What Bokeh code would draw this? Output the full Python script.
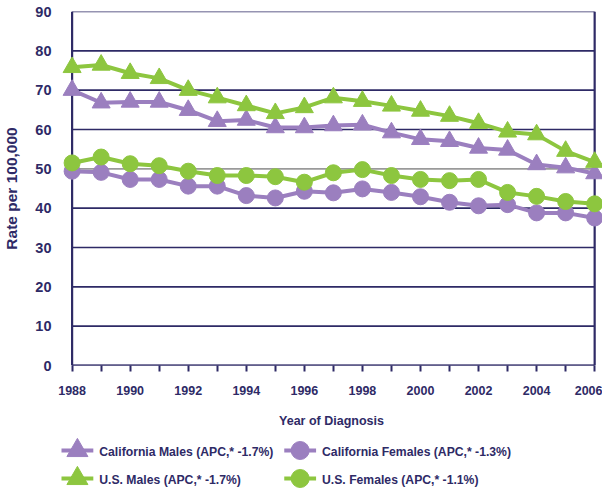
from bokeh.plotting import figure
from bokeh.layouts import column
from bokeh.models import Range1d, FixedTicker
from bokeh.core.properties import value
from bokeh.embed import file_html
from bokeh.resources import INLINE

years = list(range(1988, 2007))
ca_males = [70.0, 66.8, 67.0, 67.0, 64.9, 62.1, 62.4, 60.5, 60.5, 61.0, 61.2, 59.2, 57.5, 57.0, 55.3, 54.8, 51.1, 50.3, 48.8]
us_males = [75.8, 76.4, 74.3, 73.0, 70.0, 68.1, 66.1, 64.1, 65.6, 68.1, 67.2, 66.0, 64.7, 63.4, 61.6, 59.4, 58.7, 54.5, 51.7]
ca_females = [49.4, 49.1, 47.3, 47.3, 45.6, 45.6, 43.2, 42.6, 44.3, 43.9, 44.9, 44.0, 42.9, 41.5, 40.6, 40.9, 38.8, 38.8, 37.5]
us_females = [51.5, 53.0, 51.3, 50.8, 49.4, 48.3, 48.3, 48.0, 46.6, 49.0, 49.8, 48.3, 47.3, 47.0, 47.3, 44.0, 43.0, 41.7, 41.1]
y_ticks = [0, 10, 20, 30, 40, 50, 60, 70, 80, 90]
x_label_years = [1988, 1990, 1992, 1994, 1996, 1998, 2000, 2002, 2004, 2006]
series_labels = ["California Males (APC,* -1.7%)", "California Females (APC,* -1.3%)",
                 "U.S. Males (APC,* -1.7%)", "U.S. Females (APC,* -1.1%)"]

NAVY = "#2e2a66"
PURPLE = "#9b7fbf"
GREEN = "#8dc63f"
FONT = "Liberation Sans"

p = figure(width=602, height=430, output_backend="svg", toolbar_location=None,
           x_range=Range1d(1987.6, 2006.27), y_range=Range1d(0, 90),
           min_border_left=57, min_border_right=0, min_border_top=11, min_border_bottom=65)
p.outline_line_color = None
p.background_fill_color = "white"
p.border_fill_color = "white"

# grid lines
grid_colors = [NAVY if t != 50 else "#9a9a9a" for t in y_ticks]
p.segment(x0=[years[0]] * len(y_ticks), x1=[years[-1]] * len(y_ticks), y0=y_ticks, y1=y_ticks,
          line_color=grid_colors, line_width=1.6)
# frame lines
p.segment(x0=[years[0], years[-1], years[0]], x1=[years[0], years[-1], years[-1]],
          y0=[0, 0, 0], y1=[90, 90, 0], line_color=NAVY, line_width=2.2)

p.xgrid.visible = False
p.ygrid.visible = False

p.xaxis.ticker = FixedTicker(ticks=years)
p.xaxis.major_label_overrides = {y: (str(y) if y in x_label_years else "") for y in years}
p.xaxis.axis_line_color = None
p.xaxis.major_tick_line_color = NAVY
p.xaxis.major_tick_line_width = 2
p.xaxis.major_tick_out = 6
p.xaxis.major_tick_in = 0
p.xaxis.minor_tick_line_color = None
p.xaxis.major_label_text_font = FONT
p.xaxis.major_label_text_font_style = "bold"
p.xaxis.major_label_text_font_size = "12.5px"
p.xaxis.major_label_text_color = NAVY
p.xaxis.major_label_standoff = 14
p.xaxis.axis_label = "Year of Diagnosis"
p.xaxis.axis_label_text_font = FONT
p.xaxis.axis_label_text_font_style = "bold"
p.xaxis.axis_label_text_font_size = "12.5px"
p.xaxis.axis_label_text_color = NAVY
p.xaxis.axis_label_standoff = 16

p.yaxis.ticker = FixedTicker(ticks=y_ticks)
p.yaxis.axis_line_color = None
p.yaxis.major_tick_line_color = None
p.yaxis.minor_tick_line_color = None
p.yaxis.major_label_text_font = FONT
p.yaxis.major_label_text_font_style = "bold"
p.yaxis.major_label_text_font_size = "14.5px"
p.yaxis.major_label_text_color = NAVY
p.yaxis.major_label_standoff = 3
p.yaxis.axis_label = "Rate per 100,000"
p.yaxis.axis_label_text_font = FONT
p.yaxis.axis_label_text_font_style = "bold"
p.yaxis.axis_label_text_font_size = "15.5px"
p.yaxis.axis_label_text_color = NAVY
p.yaxis.axis_label_standoff = 12

series = [
    (ca_males, PURPLE, "triangle"),
    (ca_females, PURPLE, "circle"),
    (us_males, GREEN, "triangle"),
    (us_females, GREEN, "circle"),
]
for vals, color, marker in series:
    size = 18 if marker == "triangle" else 16
    p.line(years, vals, line_color=color, line_width=4)
    p.scatter(years, vals, marker=marker, size=size, fill_color=color, line_color=color)

# legend strip below the chart (pixel-space ranges)
p2 = figure(width=602, height=60, output_backend="svg", toolbar_location=None,
            x_range=Range1d(57, 602), y_range=Range1d(60, 0),
            x_axis_location=None, y_axis_location=None,
            min_border_left=57, min_border_right=0, min_border_top=0, min_border_bottom=0)
p2.outline_line_color = None
p2.grid.visible = False

col_x = [58, 282]
row_y = [20, 48]
gx, gy, tx, ty, colors, markers = [], [], [], [], [], []
for i, (vals, color, marker) in enumerate(series):
    x0 = col_x[i % 2]
    y0 = row_y[i // 2]
    gx.append(x0)
    gy.append(y0)
    tx.append(x0 + 38)
    ty.append(y0 + 1)
    colors.append(color)
    markers.append(marker)

p2.segment(x0=gx, x1=[x + 32 for x in gx], y0=gy, y1=gy, line_color=colors, line_width=4)
p2.scatter([x + 16 for x in gx], gy, marker=markers,
           size=[21 if m == "triangle" else 18 for m in markers],
           fill_color=colors, line_color=colors)
p2.text(tx, ty, text=series_labels, text_font=value(FONT), text_font_style="bold",
        text_font_size="12.2px", text_color=NAVY, text_baseline="middle", text_align="left")

open("out.html", "w").write(file_html(column(p, p2, spacing=0), INLINE))
